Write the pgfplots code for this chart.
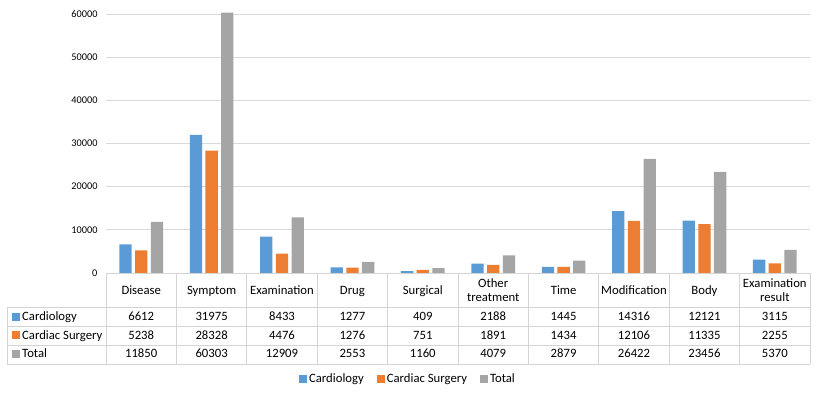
\documentclass[border=0pt]{standalone}
\usepackage{pgfplots}
\usepackage{pgfplotstable}
\pgfplotsset{compat=1.18}
\usepackage{fontspec}
\setmainfont{Carlito}

\definecolor{cblue}{HTML}{5B9BD5}
\definecolor{corange}{HTML}{ED7D31}
\definecolor{cgray}{HTML}{A5A5A5}
\definecolor{gridc}{HTML}{D9D9D9}
\definecolor{tabc}{HTML}{D4D4D4}

\pgfplotstableread{
x card surg total
0 6612  5238  11850
1 31975 28328 60303
2 8433  4476  12909
3 1277  1276  2553
4 409   751   1160
5 2188  1891  4079
6 1445  1434  2879
7 14316 12106 26422
8 12121 11335 23456
9 3115  2255  5370
}\datatable

\pgfplotsset{sqleg/.style={legend image code/.code={\fill[##1,draw=none] (0pt,-4pt) rectangle (8pt,4pt);}}}

\begin{document}
\begin{tikzpicture}[x=1pt,y=1pt]
\path[use as bounding box] (0,0) rectangle (821,-394);
\begin{axis}[
  at={(106pt,-273pt)}, anchor=south west,
  scale only axis, width=704pt, height=259pt,
  xmin=-0.5, xmax=9.5, ymin=0, ymax=60000,
  clip=false,
  ybar=3.4pt, bar width=12.3pt,
  axis line style={draw=none},
  xtick=\empty,
  ytick={0,10000,...,60000},
  ymajorgrids, grid style={gridc, line width=0.9pt},
  major tick length=0pt,
  scaled y ticks=false,
  yticklabel style={font=\fontsize{10.3}{12}\selectfont, text=black, xshift=-5pt},
  /pgf/number format/1000 sep={},
  /pgf/number format/assume math mode=true,
  legend columns=-1,
  legend style={at={(0.429,-0.409)}, anchor=center, draw=none, fill=none,
    font=\fontsize{12.7}{15}\selectfont,
    /tikz/every even column/.append style={column sep=11pt}},
]
\addplot[fill=cblue, draw=none, sqleg] table[x=x, y=card] {\datatable};
\addplot[fill=corange, draw=none, sqleg] table[x=x, y=surg] {\datatable};
\addplot[fill=cgray, draw=none, sqleg] table[x=x, y=total] {\datatable};
\legend{Cardiology, Cardiac Surgery, Total}
\end{axis}

% data table below the plot
\begin{scope}[tabc, line width=0.9pt]
  \draw (106,-273) -- (810,-273);
  \draw (7,-307) -- (810,-307);
  \draw (7,-326) -- (810,-326);
  \draw (7,-345) -- (810,-345);
  \draw (7,-364) -- (810,-364);
  \draw (7,-307) -- (7,-364);
  \foreach \i in {0,...,10} \draw ({106+70.4*\i},-273) -- ({106+70.4*\i},-364);
\end{scope}

\begin{scope}[font=\fontsize{12.7}{14.4}\selectfont]
  \foreach \t [count=\i from 0] in {Disease,Symptom,Examination,Drug,Surgical,,Time,Modification,Body,}
    \node[anchor=base, inner sep=0pt] at ({106+70.4*(\i+0.5)},-294) {\t};
  \node[anchor=base, inner sep=0pt] at ({106+70.4*5.5},-287.3) {Other};
  \node[anchor=base, inner sep=0pt] at ({106+70.4*5.5},-301.7) {treatment};
  \node[anchor=base, inner sep=0pt] at ({106+70.4*9.5},-287.3) {Examination};
  \node[anchor=base, inner sep=0pt] at ({106+70.4*9.5},-301.7) {result};
  \foreach \v [count=\i from 0] in {6612,31975,8433,1277,409,2188,1445,14316,12121,3115}
    \node[anchor=base, inner sep=0pt] at ({106+70.4*(\i+0.5)},-320.7) {\v};
  \foreach \v [count=\i from 0] in {5238,28328,4476,1276,751,1891,1434,12106,11335,2255}
    \node[anchor=base, inner sep=0pt] at ({106+70.4*(\i+0.5)},-339) {\v};
  \foreach \v [count=\i from 0] in {11850,60303,12909,2553,1160,4079,2879,26422,23456,5370}
    \node[anchor=base, inner sep=0pt] at ({106+70.4*(\i+0.5)},-357.5) {\v};
  \fill[cblue] (12,-320.7) rectangle (20,-312.7);
  \node[anchor=base west, inner sep=0pt] at (22,-320.7) {Cardiology};
  \fill[corange] (12,-339) rectangle (20,-331);
  \node[anchor=base west, inner sep=0pt] at (22,-339) {Cardiac Surgery};
  \fill[cgray] (12,-357.5) rectangle (20,-349.5);
  \node[anchor=base west, inner sep=0pt] at (22,-357.5) {Total};
\end{scope}
\end{tikzpicture}
\end{document}
